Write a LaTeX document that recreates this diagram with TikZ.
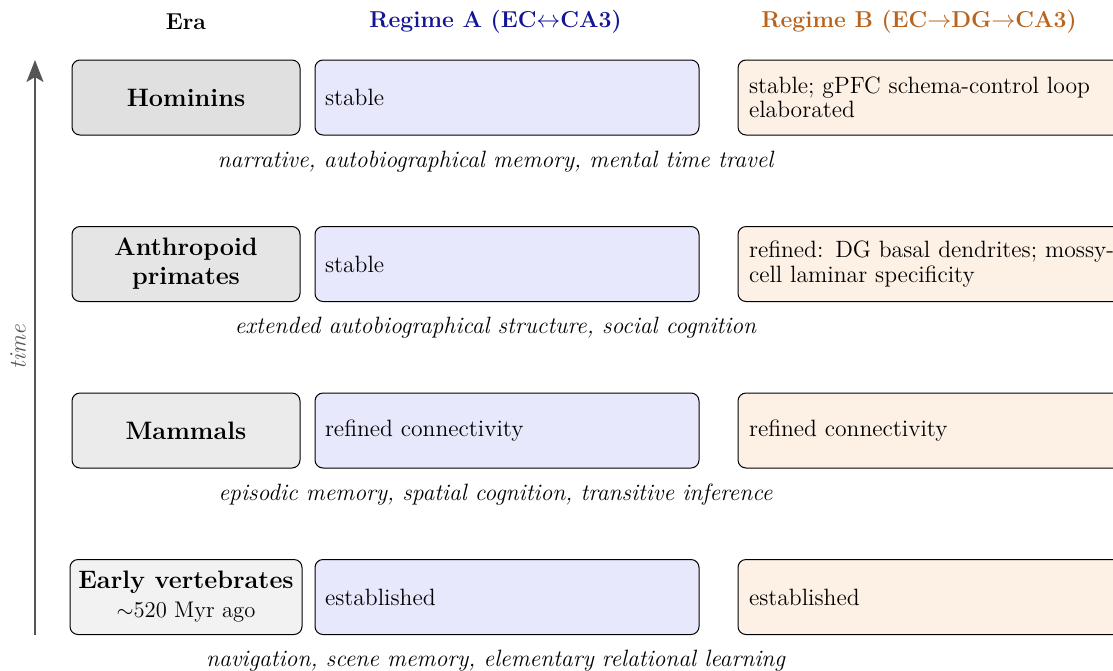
\documentclass[tikz,border=0pt]{standalone}
\usetikzlibrary{arrows.meta}
\definecolor{hdrA}{RGB}{20,20,150}
\definecolor{hdrB}{RGB}{185,100,30}
\definecolor{fillA}{RGB}{232,232,252}
\definecolor{fillB}{RGB}{253,240,228}
\definecolor{arrowgray}{RGB}{85,85,85}
\newcommand{\bodysz}{\fontsize{11.8pt}{12.3pt}\selectfont}
\newcommand{\hdrsz}{\fontsize{11.5pt}{12.2pt}\selectfont}
\newcommand{\erasz}{\fontsize{12.6pt}{14.5pt}\selectfont}
\tikzset{
  erabox/.style={draw=black, line width=0.5pt, rounded corners=4pt, minimum width=114pt, minimum height=37.5pt, align=center, font=\erasz\bfseries, inner sep=2pt},
  regA/.style={draw=black, line width=0.5pt, rounded corners=4pt, fill=fillA, minimum width=192pt, minimum height=37.5pt, text width=182pt, align=left, inner sep=5pt, font=\bodysz},
  regB/.style={draw=black, line width=0.5pt, rounded corners=4pt, fill=fillB, minimum width=197pt, minimum height=37.5pt, text width=186pt, align=left, inner sep=5.5pt, font=\bodysz},
  hdr/.style={font=\hdrsz\bfseries},
  capt/.style={font=\bodysz\itshape},
}
\hyphenpenalty=10000
\begin{document}
\begin{tikzpicture}[x=0.5pt, y=-0.5pt]
\clip (0,0) rectangle (1113,670);
% headers
\node[hdr] (hE) at (186,22) {Era};
\node[hdr, text=hdrA] (hA) at (495.5,22) {Regime A (EC$\leftrightarrow$CA3)};
\node[hdr, text=hdrB] (hB) at (919,22) {Regime B (EC$\rightarrow$DG$\rightarrow$CA3)};
% row 1
\node[erabox, fill=black!12] (e1) at (186,97.5) {Hominins};
\node[regA] (a1) at (507,97.5) {stable};
\node[regB] (b1) at (935,97.5) {stable; gPFC schema-control loop elaborated};
\node[capt] (c1) at (495.5,162) {narrative, autobiographical memory, mental time travel};
% row 2
\node[erabox, fill=black!10] (e2) at (186,264) {Anthropoid\\primates};
\node[regA] (a2) at (507,264) {stable};
\node[regB] (b2) at (935,264) {refined: DG basal dendrites; mossy-cell laminar specificity};
\node[capt] (c2) at (495.5,328) {extended autobiographical structure, social cognition};
% row 3
\node[erabox, fill=black!8] (e3) at (186,430.5) {Mammals};
\node[regA] (a3) at (507,430.5) {refined connectivity};
\node[regB] (b3) at (935,430.5) {refined connectivity};
\node[capt] (c3) at (495.5,495) {episodic memory, spatial cognition, transitive inference};
% row 4
\node[erabox, fill=black!5, minimum width=116pt] (e4) at (186,597) {Early vertebrates\\{\fontsize{11.3pt}{13pt}\selectfont\mdseries $\sim$520 Myr ago}};
\node[regA] (a4) at (507,597) {established};
\node[regB] (b4) at (935,597) {established};
\node[capt] (c4) at (495.5,661) {navigation, scene memory, elementary relational learning};
% time axis
\coordinate (t0) at (35,635);
\coordinate (t1) at (35,60);
\draw[arrowgray, line width=1pt, -{Stealth[length=11pt,width=8.5pt,inset=2.5pt]}] (t0) -- (t1);
\node[capt, text=arrowgray, rotate=90] (tl) at (18,347) {time};
\end{tikzpicture}
\end{document}
